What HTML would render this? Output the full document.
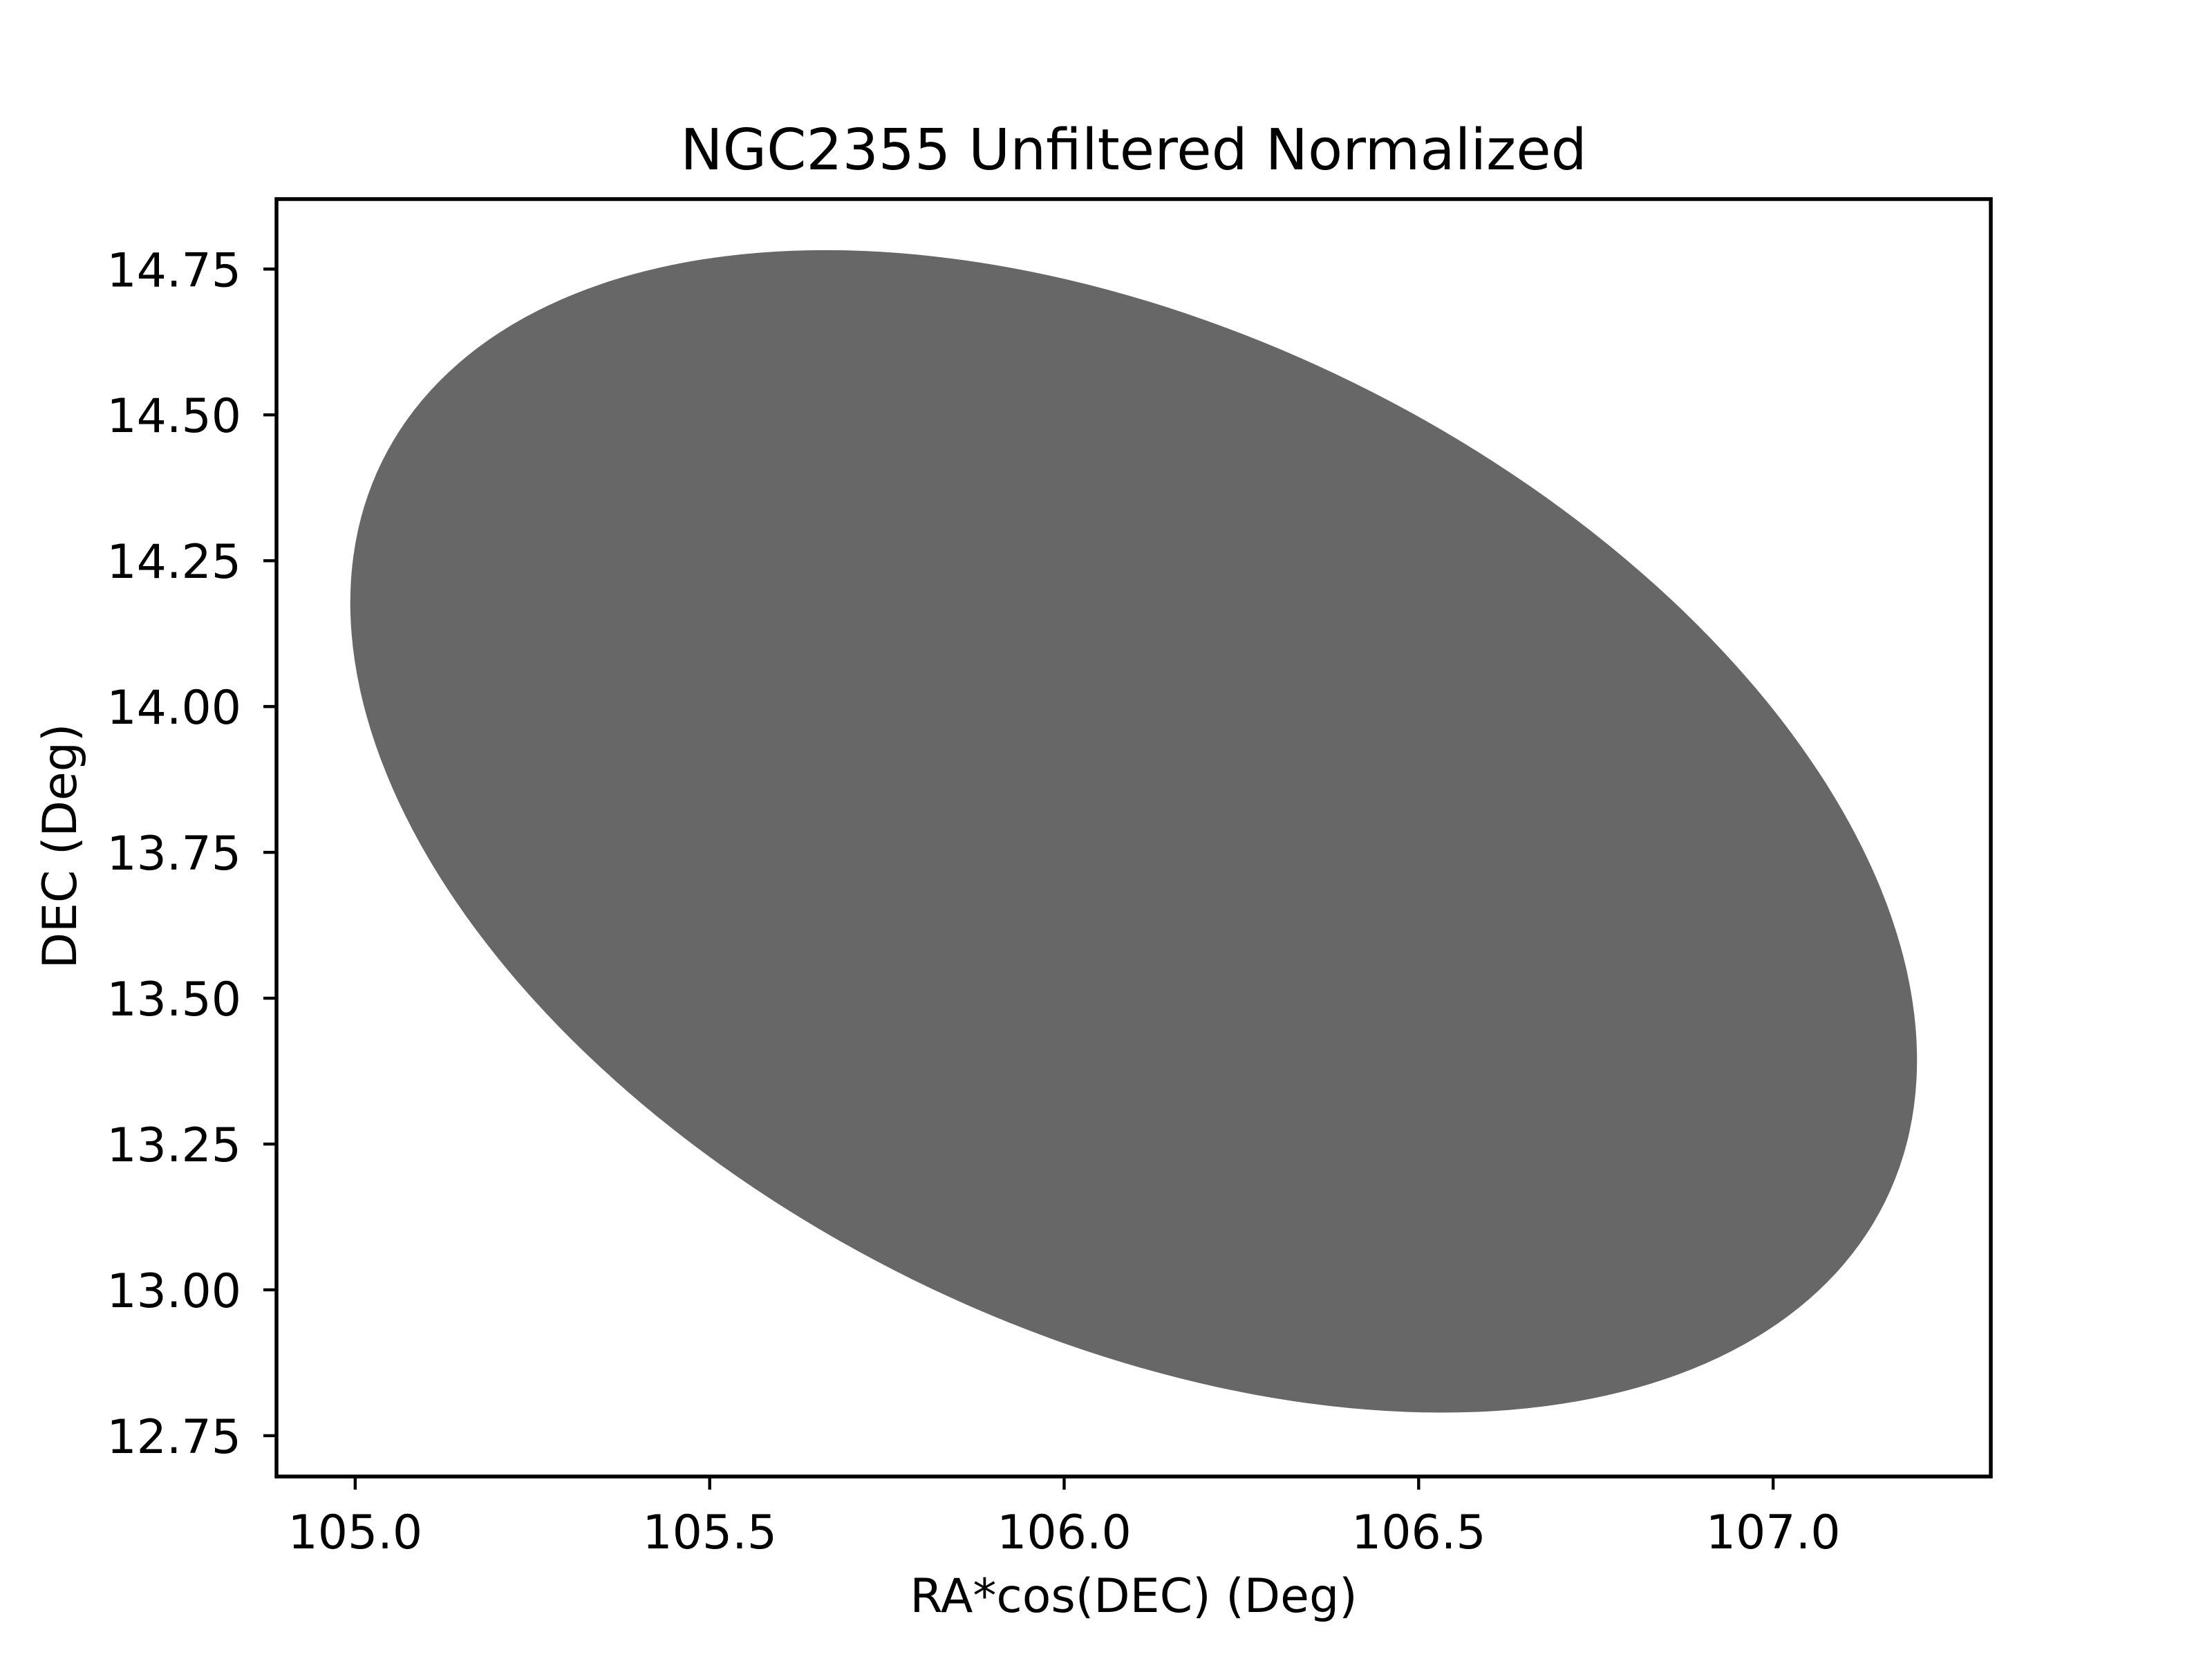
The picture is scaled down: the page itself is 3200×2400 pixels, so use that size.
<!DOCTYPE html>
<html><head><meta charset="utf-8"><style>
html,body{margin:0;padding:0;background:#fff;}
svg{display:block;font-family:"DejaVu Sans","Liberation Sans",sans-serif;}
</style></head><body>
<svg id="chart" width="3200" height="2400" viewBox="0 0 3200 2400" xmlns="http://www.w3.org/2000/svg">
<rect width="3200" height="2400" fill="#fff"/>
<g id="plot"></g>
<g id="axes"></g>
<text x="1640" y="245" font-size="82" text-anchor="middle">NGC2355 Unfiltered Normalized</text>
<text x="1640" y="2332" font-size="68" text-anchor="middle">RA*cos(DEC) (Deg)</text>
<text x="0" y="0" font-size="68" text-anchor="middle" transform="translate(110,1224) rotate(-90)">DEC (Deg)</text>
</svg>
<script>
// Footprint of the star field (filled by dense scatter)
const fieldCenterRA = [106.098];
const fieldCenterDEC = [13.786];
const fieldSemiMajorRA = [1.1816];   // semi-major axis, in RA-degree units
const fieldSemiMinorRA = [0.7048];   // semi-minor axis, in RA-degree units
const fieldTiltDeg = [26.2];         // on-screen tilt (down to the right)
const xTicks = [105.0,105.5,106.0,106.5,107.0];
const xTickLabels = ["105.0","105.5","106.0","106.5","107.0"];
const yTicks = [12.75,13.00,13.25,13.50,13.75,14.00,14.25,14.50,14.75];
const yTickLabels = ["12.75","13.00","13.25","13.50","13.75","14.00","14.25","14.50","14.75"];

const L=400,R=2880,T=288,B=2136;
const xMin=104.889,xMax=107.307,yMin=12.680,yMax=14.870;
const sx=v=>L+(v-xMin)/(xMax-xMin)*(R-L);
const sy=v=>B-(v-yMin)/(yMax-yMin)*(B-T);
const pxPerRA=(R-L)/(xMax-xMin);
const NS="http://www.w3.org/2000/svg";
const plot=document.getElementById('plot');
const axes=document.getElementById('axes');

fieldCenterRA.forEach((ra,i)=>{
  const e=document.createElementNS(NS,'ellipse');
  const cx=sx(ra),cy=sy(fieldCenterDEC[i]);
  e.setAttribute('cx',cx);e.setAttribute('cy',cy);
  e.setAttribute('rx',fieldSemiMajorRA[i]*pxPerRA);
  e.setAttribute('ry',fieldSemiMinorRA[i]*pxPerRA);
  e.setAttribute('transform',`rotate(${fieldTiltDeg[i]} ${cx} ${cy})`);
  e.setAttribute('fill','#676767');
  
  
  plot.appendChild(e);
});

const frame=document.createElementNS(NS,'rect');
frame.setAttribute('x',L);frame.setAttribute('y',T);
frame.setAttribute('width',R-L);frame.setAttribute('height',B-T);
frame.setAttribute('fill','none');frame.setAttribute('stroke','#000');frame.setAttribute('stroke-width','5.5');


axes.appendChild(frame);

xTicks.forEach((v,i)=>{
  const x=sx(v);
  const t=document.createElementNS(NS,'line');
  t.setAttribute('x1',x);t.setAttribute('x2',x);t.setAttribute('y1',B);t.setAttribute('y2',B+19);
  t.setAttribute('stroke','#000');t.setAttribute('stroke-width','4.4');
  
  
  axes.appendChild(t);
  const lb=document.createElementNS(NS,'text');
  lb.setAttribute('x',x);lb.setAttribute('y',2240);
  lb.setAttribute('font-size','68');lb.setAttribute('text-anchor','middle');
  lb.textContent=xTickLabels[i];
  
  
  axes.appendChild(lb);
});
yTicks.forEach((v,i)=>{
  const y=sy(v);
  const t=document.createElementNS(NS,'line');
  t.setAttribute('x1',L-19);t.setAttribute('x2',L);t.setAttribute('y1',y);t.setAttribute('y2',y);
  t.setAttribute('stroke','#000');t.setAttribute('stroke-width','4.4');
  
  
  axes.appendChild(t);
  const lb=document.createElementNS(NS,'text');
  lb.setAttribute('x',L-51);lb.setAttribute('y',y+25);
  lb.setAttribute('font-size','68');lb.setAttribute('text-anchor','end');
  lb.textContent=yTickLabels[i];
  
  
  axes.appendChild(lb);
});
</script>
</body></html>
